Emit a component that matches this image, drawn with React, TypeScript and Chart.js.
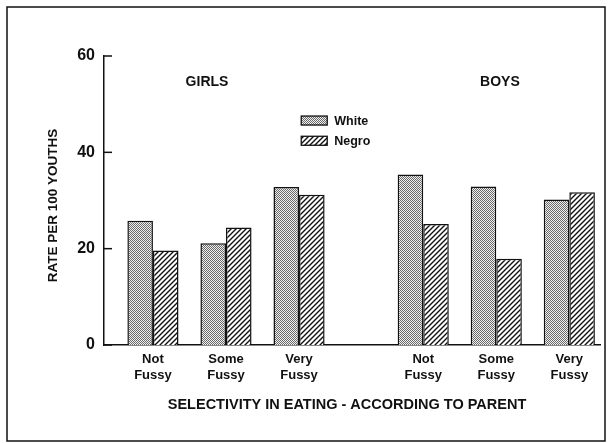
import React, { useEffect, useRef } from 'react';
import { Chart, registerables } from 'chart.js';

Chart.register(...registerables);

// ---- data ----
const categoryLabels: string[][] = [
  ['Not', 'Fussy'],
  ['Some', 'Fussy'],
  ['Very', 'Fussy'],
  ['Not', 'Fussy'],
  ['Some', 'Fussy'],
  ['Very', 'Fussy'],
];
const categoryPositions = [1, 2, 3, 4.7, 5.7, 6.7];
const whiteRates = [25.8, 21.1, 32.8, 35.4, 32.9, 30.2];
const negroRates = [19.6, 24.4, 31.2, 25.1, 17.9, 31.7];
const seriesNames = ['White', 'Negro'];
const yTickValues = [0, 20, 40, 60];
const groupTitles = ['GIRLS', 'BOYS'];
const groupTitlePositions = [1.74, 5.75];
const yTitle = 'RATE PER 100 YOUTHS';
const xTitle = 'SELECTIVITY IN EATING - ACCORDING TO PARENT';

const FONT = '"Liberation Sans", Arial, Helvetica, sans-serif';
const INK = '#111111';

function makeStipple(): CanvasPattern {
  const c = document.createElement('canvas');
  c.width = 2;
  c.height = 2;
  const g = c.getContext('2d')!;
  g.fillStyle = '#f0f0f0';
  g.fillRect(0, 0, 2, 2);
  g.fillStyle = '#6a6a6a';
  g.fillRect(0, 0, 1, 1);
  g.fillRect(1, 1, 1, 1);
  return g.createPattern(c, 'repeat')!;
}

function makeHatch(): CanvasPattern {
  const s = 5;
  const c = document.createElement('canvas');
  c.width = s;
  c.height = s;
  const g = c.getContext('2d')!;
  g.fillStyle = '#ffffff';
  g.fillRect(0, 0, s, s);
  g.strokeStyle = INK;
  g.lineWidth = 1.4;
  g.beginPath();
  g.moveTo(0, s);
  g.lineTo(s, 0);
  g.moveTo(-1, 1);
  g.lineTo(1, -1);
  g.moveTo(s - 1, s + 1);
  g.lineTo(s + 1, s - 1);
  g.stroke();
  return g.createPattern(c, 'repeat')!;
}

const framePlugin = {
  id: 'frame',
  beforeDraw(chart: any) {
    const ctx = chart.ctx as CanvasRenderingContext2D;
    ctx.save();
    ctx.fillStyle = '#ffffff';
    ctx.fillRect(0, 0, chart.width, chart.height);
    ctx.strokeStyle = INK;
    ctx.lineWidth = 1.5;
    ctx.strokeRect(7, 7, 598, 434);
    ctx.restore();
  },
};

const decorPlugin = {
  id: 'decor',
  afterDraw(chart: any) {
    const ctx = chart.ctx as CanvasRenderingContext2D;
    const xs = chart.scales.x;
    const ys = chart.scales.y;
    const area = chart.chartArea;
    ctx.save();
    ctx.fillStyle = INK;
    ctx.strokeStyle = INK;

    // inner tick marks on the y axis
    ctx.lineWidth = 1.5;
    yTickValues.forEach((v) => {
      const py = ys.getPixelForValue(v);
      ctx.beginPath();
      ctx.moveTo(area.left, py);
      ctx.lineTo(area.left + 8, py);
      ctx.stroke();
    });

    // group titles
    ctx.font = `bold 14px ${FONT}`;
    ctx.textAlign = 'center';
    ctx.textBaseline = 'middle';
    groupTitles.forEach((t, i) => {
      ctx.fillText(t, xs.getPixelForValue(groupTitlePositions[i]), ys.getPixelForValue(54.6));
    });

    // legend
    const lx = xs.getPixelForValue(3.03);
    const rows = [ys.getPixelForValue(46.6), ys.getPixelForValue(42.4)];
    chart.data.datasets.forEach((ds: any, i: number) => {
      const cy = rows[i];
      ctx.fillStyle = ds.backgroundColor;
      ctx.fillRect(lx, cy - 4.5, 26, 9);
      ctx.lineWidth = 1.3;
      ctx.strokeRect(lx, cy - 4.5, 26, 9);
      ctx.fillStyle = INK;
      ctx.font = `bold 12.5px ${FONT}`;
      ctx.textAlign = 'left';
      ctx.textBaseline = 'middle';
      ctx.fillText(ds.label, lx + 33, cy + 1);
    });

    // axis titles
    ctx.font = `bold 13.5px ${FONT}`;
    ctx.textAlign = 'center';
    ctx.textBaseline = 'middle';
    ctx.save();
    ctx.translate(53, (area.top + area.bottom) / 2 + 5);
    ctx.rotate(-Math.PI / 2);
    ctx.fillText(yTitle, 0, 0);
    ctx.restore();

    ctx.font = `bold 14.5px ${FONT}`;
    ctx.fillText(xTitle, (area.left + area.right) / 2 - 5, 405);
    ctx.restore();
  },
};

export default function App() {
  const ref = useRef<HTMLCanvasElement>(null);

  useEffect(() => {
    document.body.style.margin = '0';
    const canvas = ref.current!;
    const stipple = makeStipple();
    const hatch = makeHatch();

    const chart = new Chart(canvas, {
      type: 'bar',
      data: {
        datasets: [
          {
            label: seriesNames[0],
            data: categoryPositions.map((x, i) => ({ x, y: whiteRates[i] })),
            backgroundColor: stipple,
            borderColor: INK,
            borderWidth: 1.5,
          },
          {
            label: seriesNames[1],
            data: categoryPositions.map((x, i) => ({ x, y: negroRates[i] })),
            backgroundColor: hatch,
            borderColor: INK,
            borderWidth: 1.5,
          },
        ],
      } as any,
      options: {
        responsive: false,
        animation: false,
        events: [],
        layout: { padding: { top: 56, right: 12, left: 0, bottom: 0 } },
        plugins: {
          legend: { display: false },
          tooltip: { enabled: false },
        },
        datasets: {
          bar: { categoryPercentage: 0.7, barPercentage: 1 },
        },
        scales: {
          x: {
            type: 'linear',
            min: 0.33,
            max: 7.12,
            offset: false,
            grid: { display: false, drawTicks: false },
            border: { display: true, color: INK, width: 1.5 },
            afterBuildTicks: (s: any) => {
              s.ticks = categoryPositions.map((v) => ({ value: v }));
            },
            afterFit: (s: any) => {
              s.height = 98;
            },
            ticks: {
              autoSkip: false,
              maxRotation: 0,
              minRotation: 0,
              padding: 7,
              color: INK,
              font: { family: FONT, size: 13, weight: 'bold', lineHeight: 1.2 },
              callback: (v: any) => {
                const i = categoryPositions.indexOf(Number(v));
                return i >= 0 ? categoryLabels[i] : '';
              },
            },
          },
          y: {
            min: 0,
            max: 60,
            grid: { display: false, drawTicks: false },
            border: { display: true, color: INK, width: 1.5 },
            afterBuildTicks: (s: any) => {
              s.ticks = yTickValues.map((v) => ({ value: v }));
            },
            afterFit: (s: any) => {
              s.width = 104;
            },
            ticks: {
              padding: 9,
              color: INK,
              font: { family: FONT, size: 16, weight: 'bold' },
            },
          },
        },
      } as any,
      plugins: [framePlugin, decorPlugin],
    });

    return () => chart.destroy();
  }, []);

  return <canvas ref={ref} width={612} height={443} style={{ display: 'block' }} />;
}
